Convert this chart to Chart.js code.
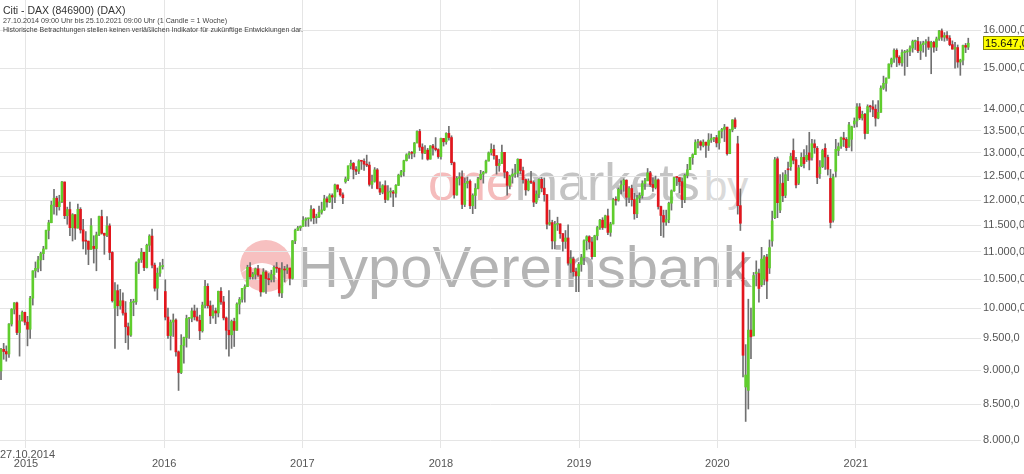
<!DOCTYPE html>
<html>
<head>
<meta charset="utf-8">
<script src="https://cdn.jsdelivr.net/npm/chart.js@4.4.0/dist/chart.umd.min.js"></script>
<style>
    html, body { margin: 0; padding: 0; background: #fff; }
    #wrap { position: relative; width: 1024px; height: 474px; overflow: hidden; font-family: "Liberation Sans", Arial, sans-serif; }
    #chart { position: absolute; left: 0; top: 0; z-index: 1; }
    .wm { position: absolute; z-index: 0; line-height: 1; white-space: nowrap; }
    .txt { position: absolute; z-index: 2; line-height: 1; white-space: nowrap; color: #333; }
</style>
</head>
<body>
<div id="wrap">
    <!-- Wasserzeichen -->
    <div class="wm" style="left:428px; top:156px; font-size:52px; color:#c4c4c4;"><span style="color:#f5bcbc">one</span>markets</div>
    <div class="wm" style="left:704px; top:166px; font-size:42px; color:#dadada;">by</div>
    <div class="wm" style="left:240px; top:240px; width:52px; height:52px; border-radius:50%; background:#f7c0c0; overflow:hidden;">
        <div style="position:absolute; left:-6px; top:22px; width:50px; height:50px; border-radius:50%; border-top:7px solid #fff; transform:rotate(35deg);"></div>
    </div>
    <div class="wm" style="left:297px; top:238px; font-size:58px; color:#b4b4b4;">HypoVereinsbank</div>

    <div class="txt" style="left:3px; top:5px; font-size:10.5px;">Citi - DAX (846900) (DAX)</div>
    <div class="txt" style="left:3px; top:17px; font-size:7.2px; color:#444;">27.10.2014 09:00 Uhr bis 25.10.2021 09:00 Uhr (1 Candle = 1 Woche)</div>
    <div class="txt" style="left:3px; top:25.5px; font-size:7px; color:#444;">Historische Betrachtungen stellen keinen verläßlichen Indikator für zukünftige Entwicklungen dar.</div>

    <canvas id="chart" width="1024" height="474"></canvas>
</div>
<script>
// Wochenkerzen 27.10.2014 - 25.10.2021 (1 Candle = 1 Woche)
const opens = [
    8990, 9326, 9291, 9253, 9733, 9980, 10087, 9594, 9787, 9927,
    // 2015
    9764, 9648, 10168, 10649, 10694, 10846, 10963, 11050, 11402, 11551,
    11901, 12040, 11868, 11967, 12375, 11689, 11811, 11454, 11710, 11447,
    11815, 11413, 11197, 11196, 11041, 11100, 11058, 11316, 11673, 11347,
    11308, 11490, 10985, 10000, 10298, 10038, 10123, 9916, 9688, 9553,
    10096, 10104, 10795, 10850, 10988, 10708, 11119, 11293, 10752, 10340, 10608, 10727,
    // 2016
    10283, 9849, 9545, 9765, 9798, 9286, 8967, 9388, 9513, 9824, 9831, 9950,
    9851, 9795, 9622, 10051, 10373, 10039, 9870, 9952, 9916, 10287, 10103, 9834,
    9631, 9557, 9776, 9630, 10067, 10147, 10337, 10367, 10713, 10544, 10588, 10684,
    10573, 10276, 10627, 10511, 10490, 10580, 10711, 10696, 10259, 10667, 10664, 10700,
    10513, 11203, 11404, 11450,
    // 2017
    11481, 11599, 11629, 11630, 11814, 11651, 11666, 11757, 11804, 12027, 11963, 12095,
    12064, 12313, 12225, 12109, 12380, 12438, 12717, 12770, 12638, 12602, 12823, 12816,
    12753, 12733, 12325, 12389, 12631, 12240, 12163, 12298, 12014, 12165, 12168, 12142,
    12304, 12519, 12592, 12829, 12956, 12992, 12991, 13218, 13479, 13127, 12994, 13060, 12861, 13153, 13104, 13072,
    // 2018
    12918, 13320, 13245, 13434, 13340, 12785, 12107, 12452, 12483, 11914, 12346, 12390,
    11887, 12097, 12241, 12442, 12540, 12580, 12820, 13001, 13078, 12938, 12724, 12767,
    13011, 12580, 12306, 12496, 12541, 12561, 12860, 12616, 12424, 12211, 12394, 12364,
    11960, 12124, 12431, 12247, 12112, 11523, 11554, 11201, 11519, 11529, 11341, 11192,
    11257, 10788, 10866, 10634, 10559,
    // 2019
    10767, 10888, 11205, 11282, 11181, 10907, 11299, 11457, 11602, 11458, 11686, 11364,
    11526, 12010, 11999, 12222, 12315, 12413, 12059, 12239, 12011, 11727, 12046, 12096,
    12340, 12399, 12568, 12323, 12260, 12419, 11872, 11694, 11563, 11612, 11939, 12192,
    12469, 12468, 12381, 12013, 12512, 12634, 12895, 12961, 13229, 13242, 13164, 13236,
    13167, 13283, 13319, 13337,
    // 2020
    13219, 13483, 13526, 13577, 12982, 13514, 13745, 13200, 11890, 10980, 8750, 8700,
    9633, 9540, 10600, 10600, 10400, 10500, 10900, 10700, 11200, 11650, 12870, 11800,
    12350, 12100, 12650, 12700, 13050, 12850, 12350, 12720, 12900, 12850, 13000, 12900,
    13200, 13100, 12550, 12700, 13100, 12900, 12450, 11600, 12600, 13050, 13150, 13330,
    13300, 13150, 13300, 13650,
    // 2021
    13719, 14050, 13788, 13874, 13433, 14057, 14050, 13994, 13786, 13921, 14502, 14621,
    14749, 15107, 15234, 15460, 15280, 15136, 15400, 15417, 15437, 15520, 15693, 15693,
    15448, 15608, 15650, 15688, 15540, 15669, 15544, 15761, 15977, 15808, 15852, 15781,
    15610, 15491, 15532, 15156, 15207, 15587, 15543
];
const highs = [
    9340, 9420, 9380, 9740, 9990, 10093, 10100, 9880, 9950, 9930,
    9860, 10200, 10650, 10810, 10912, 10990, 11100, 11410, 11600, 11980,
    12220, 12080, 12100, 12390, 12300, 11860, 11960, 11730, 11600, 11920,
    11850, 11620, 11380, 11200, 11630, 11300, 11370, 11680, 11800, 11350,
    11670, 11530, 11000, 10440, 10400, 10320, 10260, 10110, 9750, 10150,
    10150, 10810, 10870, 11060, 10950, 11140, 11320, 11430, 10790, 10700, 10800, 10860,
    10490, 10000, 9800, 9900, 9820, 9300, 9560, 9520, 9880, 9840, 10000, 10050,
    10000, 9880, 10100, 10480, 10420, 10120, 10050, 10000, 10290, 10350, 10200, 9850,
    10300, 9800, 9830, 10090, 10180, 10340, 10400, 10750, 10800, 10620, 10700, 10750,
    10570, 10690, 10650, 10600, 10660, 10740, 10800, 10700, 10800, 10730, 10760, 10700,
    11210, 11430, 11480, 11490,
    11670, 11650, 11640, 11890, 11830, 11720, 11880, 11960, 12100, 12070, 12130, 12130,
    12330, 12300, 12240, 12150, 12480, 12720, 12840, 12790, 12700, 12850, 12830, 12870,
    12950, 12800, 12520, 12680, 12660, 12380, 12320, 12400, 12300, 12250, 12200, 12320,
    12540, 12620, 12840, 12980, 13030, 13030, 13230, 13490, 13525, 13200, 13160, 13100, 13160, 13190, 13340, 13090,
    13330, 13300, 13450, 13597, 13380, 12800, 12490, 12570, 12610, 12460, 12480, 12420,
    12130, 12340, 12470, 12620, 12600, 12840, 13020, 13200, 13170, 12930, 12860, 13170,
    13000, 12600, 12520, 12650, 12750, 12870, 12860, 12690, 12440, 12440, 12600, 12400,
    12190, 12440, 12470, 12460, 12120, 11800, 11600, 11580, 11660, 11500, 11330, 11400,
    11510, 11020, 10900, 10700, 10800,
    10950, 11220, 11300, 11300, 11270, 11310, 11480, 11620, 11650, 11700, 11820, 11560,
    12040, 12070, 12250, 12400, 12440, 12420, 12280, 12310, 12140, 12100, 12150, 12400,
    12450, 12660, 12600, 12460, 12500, 12440, 11880, 11800, 11800, 11960, 12210, 12480,
    12480, 12440, 12460, 12540, 12750, 12900, 12980, 13290, 13300, 13270, 13290, 13240,
    13430, 13420, 13340, 13390,
    13490, 13550, 13640, 13400, 13530, 13750, 13795, 13370, 12230, 11000, 9400, 10150,
    10000, 10620, 10830, 10680, 11080, 10930, 10950, 11220, 11780, 12900, 12910, 12530,
    12570, 12620, 12800, 12990, 13310, 12900, 12730, 13000, 13070, 13160, 13460, 13300,
    13290, 13140, 12830, 13080, 13200, 12950, 12640, 12540, 13300, 13220, 13350, 13460,
    13340, 13690, 13600, 13790,
    14130, 14130, 13950, 13900, 14100, 14090, 14200, 14100, 14200, 14560, 14800, 14760,
    15110, 15260, 15500, 15500, 15320, 15470, 15460, 15480, 15580, 15730, 15730, 15800,
    15690, 15700, 15740, 15810, 15700, 15700, 15810, 15990, 16030, 15930, 15960, 15850,
    15710, 15670, 15600, 15230, 15600, 15640, 15780
];
const lows = [
    8860, 9170, 9140, 9200, 9700, 9900, 9560, 9219, 9780, 9720,
    9380, 9500, 10050, 10530, 10630, 10650, 10850, 11050, 11240, 11550,
    11720, 11700, 11800, 11950, 11630, 11520, 11300, 11200, 11230, 11450,
    11350, 11050, 10950, 10760, 11050, 10790, 10650, 11300, 11330, 10950,
    11280, 10850, 10100, 9338, 9870, 9980, 9880, 9430, 9325, 9530,
    9870, 10060, 10600, 10800, 10650, 10700, 11000, 10700, 10290, 10140, 10550, 10680,
    9800, 9500, 9314, 9530, 9220, 8699, 8950, 9110, 9360, 9500, 9770, 9800,
    9780, 9480, 9600, 10000, 10000, 9740, 9830, 9740, 9850, 10060, 9800, 9330,
    9220, 9340, 9370, 9650, 9900, 10100, 10100, 10380, 10500, 10500, 10500, 10550,
    10200, 10300, 10250, 10400, 10450, 10450, 10620, 10200, 10175, 10450, 10600, 10400,
    10500, 11150, 11400, 11400,
    11480, 11480, 11480, 11580, 11530, 11540, 11650, 11720, 11790, 11860, 11950, 11830,
    11950, 12170, 12080, 11930, 12350, 12400, 12650, 12440, 12530, 12550, 12640, 12620,
    12700, 12290, 12240, 12370, 12230, 12110, 12130, 11950, 12000, 12060, 11870, 12060,
    12300, 12480, 12500, 12820, 12880, 12870, 12910, 13220, 13050, 12860, 12980, 12840, 12870, 12950, 13040, 12880,
    12860, 13150, 13190, 13280, 12740, 12040, 12100, 12310, 11830, 11870, 12250, 11830,
    11730, 11830, 12230, 12420, 12350, 12560, 12820, 12950, 12860, 12540, 12600, 12810,
    12460, 12100, 12230, 12350, 12470, 12480, 12550, 12350, 12100, 12190, 12340, 11870,
    11930, 12050, 12170, 11980, 11430, 11500, 11050, 11050, 11400, 11250, 11010, 11060,
    10750, 10620, 10550, 10280, 10280,
    10640, 10760, 11030, 11050, 10860, 10950, 11220, 11420, 11420, 11450, 11320, 11290,
    11560, 11900, 11980, 12130, 12180, 11880, 11950, 11880, 11620, 11650, 11950, 12040,
    12220, 12430, 12280, 12180, 12230, 11820, 11300, 11270, 11500, 11550, 11800, 12180,
    12300, 12150, 11850, 11950, 12460, 12640, 12750, 12990, 13110, 13060, 13130, 12900,
    13050, 13230, 13250, 13130,
    13080, 13330, 13250, 12950, 12980, 13470, 13540, 11720, 11400, 8900, 8255, 8430,
    9180, 9540, 10380, 10100, 10370, 10400, 10160, 10600, 11100, 11630, 11650, 11750,
    11970, 12050, 12400, 12620, 12760, 12250, 12320, 12700, 12670, 12810, 12630, 12840,
    12990, 12340, 12450, 12680, 12640, 12520, 11450, 11560, 12480, 12940, 13100, 13140,
    13050, 13120, 13040, 13570,
    13580, 13750, 13740, 13310, 13460, 13930, 13820, 13600, 13770, 14030, 14470, 14430,
    14800, 15030, 15150, 15040, 15080, 15050, 14820, 15040, 15320, 15410, 15480, 15400,
    15220, 15410, 15300, 15480, 14860, 15410, 15450, 15720, 15720, 15700, 15720, 15580,
    15490, 15000, 15020, 14820, 15080, 15400, 15480
];
const closes = [
    9326, 9291, 9253, 9733, 9980, 10087, 9594, 9787, 9927, 9764,
    9648, 10168, 10649, 10694, 10846, 10963, 11050, 11402, 11551, 11901,
    12040, 11868, 11967, 12375, 11689, 11811, 11454, 11710, 11447, 11815,
    11413, 11197, 11196, 11041, 11492, 11058, 11316, 11673, 11347, 11308,
    11490, 10985, 10124, 10298, 10038, 10123, 9916, 9688, 9553, 10096,
    10104, 10795, 10850, 10988, 10708, 11119, 11293, 10752, 10340, 10608, 10727, 10743,
    9849, 9545, 9765, 9798, 9286, 8967, 9388, 9513, 9824, 9831, 9950, 9851,
    9795, 9622, 10051, 10373, 10039, 9870, 9952, 9916, 10287, 10103, 9834, 9631,
    9557, 9776, 9630, 10067, 10147, 10337, 10367, 10713, 10544, 10588, 10684, 10573,
    10276, 10627, 10511, 10490, 10580, 10711, 10696, 10259, 10667, 10664, 10700, 10513,
    11203, 11404, 11450, 11481,
    11599, 11629, 11630, 11814, 11651, 11666, 11757, 11804, 12027, 11963, 12095, 12064,
    12313, 12225, 12109, 12049, 12438, 12717, 12770, 12638, 12602, 12823, 12816, 12753,
    12733, 12325, 12389, 12631, 12240, 12163, 12298, 12014, 12165, 12168, 12142, 12304,
    12519, 12592, 12829, 12956, 12992, 12991, 13218, 13479, 13127, 12994, 13060, 12861, 13153, 13104, 13072, 12918,
    13320, 13245, 13434, 13340, 12785, 12107, 12452, 12483, 11914, 12346, 12390, 11887,
    12097, 12241, 12442, 12540, 12580, 12820, 13001, 13078, 12938, 12724, 12767, 13011,
    12580, 12306, 12496, 12541, 12561, 12860, 12616, 12424, 12211, 12394, 12364, 11960,
    12124, 12431, 12247, 12112, 11523, 11554, 11201, 11519, 11529, 11341, 11192, 11257,
    10788, 10866, 10634, 10559, 10767,
    10888, 11205, 11282, 11181, 10907, 11299, 11457, 11602, 11458, 11686, 11364, 11526,
    12010, 11999, 12222, 12315, 12413, 12059, 12239, 12011, 11727, 12046, 12096, 12340,
    12399, 12568, 12323, 12260, 12419, 11872, 11694, 11563, 11612, 11939, 12192, 12469,
    12468, 12381, 12013, 12512, 12634, 12895, 12961, 13229, 13242, 13164, 13236, 13167,
    13283, 13319, 13337, 13219,
    13483, 13526, 13577, 12982, 13514, 13745, 13579, 11890, 11541, 9232, 8929, 9633,
    9525, 10565, 10626, 10336, 10862, 10904, 10465, 11074, 11587, 12848, 11949, 12331,
    12089, 12528, 12633, 12920, 12838, 12313, 12675, 12901, 12765, 12945, 12842, 13202,
    13116, 12469, 12689, 13051, 12909, 12646, 11556, 12480, 13077, 13137, 13336, 13298,
    13114, 13631, 13587, 13719,
    14050, 13788, 13874, 13433, 14057, 14050, 13994, 13786, 13921, 14502, 14621, 14749,
    15107, 15234, 15460, 15280, 15136, 15400, 15417, 15437, 15520, 15693, 15693, 15448,
    15608, 15650, 15688, 15540, 15669, 15544, 15761, 15977, 15808, 15852, 15781, 15610,
    15491, 15532, 15156, 15207, 15587, 15543, 15647
];

// Jahreswechsel als Wochenindex (ab 27.10.2014)
const yearLabels = ['2015', '2016', '2017', '2018', '2019', '2020', '2021'];
const yearPos = [9.43, 61.57, 113.71, 166.0, 218.14, 270.29, 322.57];
const priceTicks = [8000, 8500, 9000, 9500, 10000, 10500, 11000, 11500, 12000, 12500, 13000, 13500, 14000, 15000, 16000];
const startLabel = '27.10.2014';

document.addEventListener('DOMContentLoaded', () => {
    const green = '#5fcd2d';
    const red = '#e3161d';
    const wickColor = '#707070';
    const gridColor = '#e5e5e5';
    const textColor = '#555';

    // Zahlen im deutschen Format: 16.000,0
    function fmt(v) {
        const s = Math.round(v).toString().replace(/\B(?=(\d{3})+(?!\d))/g, '.');
        return s + ',0';
    }

    const bodies = closes.map((c, i) => ({ x: i, y: [opens[i], c] }));
    const wicks = closes.map((c, i) => ({
        x: i,
        y: [Math.min(lows[i], opens[i], c), Math.max(highs[i], opens[i], c)]
    }));
    const bodyColors = closes.map((c, i) => (c >= opens[i] ? green : red));

    // Kursmarke rechts und Startdatum unten links
    const extras = {
        id: 'extras',
        afterDraw(chart) {
            const ctx = chart.ctx;
            const last = closes[closes.length - 1];
            const y = chart.scales.y.getPixelForValue(last);
            ctx.save();
            ctx.fillStyle = '#ffff00';
            ctx.strokeStyle = '#8a8a00';
            ctx.lineWidth = 1;
            ctx.fillRect(983, Math.round(y) - 7, 45, 14);
            ctx.strokeRect(983.5, Math.round(y) - 6.5, 45, 13);
            ctx.fillStyle = '#111';
            ctx.font = '11px "Liberation Sans", Arial, sans-serif';
            ctx.textBaseline = 'middle';
            ctx.fillText(fmt(last), 985, Math.round(y) + 0.5);

            ctx.fillStyle = textColor;
            ctx.fillText(startLabel, 0, 455);
            ctx.restore();
        }
    };

    new Chart(document.getElementById('chart').getContext('2d'), {
        type: 'bar',
        data: {
            datasets: [
                { data: bodies, backgroundColor: bodyColors, barThickness: 2, minBarLength: 1, grouped: false, order: 0 },
                { data: wicks, backgroundColor: wickColor, barThickness: 1, grouped: false, order: 1 }
            ]
        },
        options: {
            responsive: false,
            animation: false,
            layout: { padding: 0 },
            plugins: { legend: { display: false }, tooltip: { enabled: false } },
            scales: {
                x: {
                    type: 'linear',
                    offset: false,
                    min: -0.38,
                    max: 369.8,
                    afterBuildTicks: axis => { axis.ticks = yearPos.map(v => ({ value: v })); },
                    afterFit: s => { s.height = 26; s.paddingLeft = 0; s.paddingRight = 0; },
                    ticks: {
                        callback: (v, i) => yearLabels[i],
                        autoSkip: false,
                        maxRotation: 0,
                        color: textColor,
                        font: { family: '"Liberation Sans", Arial, sans-serif', size: 11 },
                        padding: 9
                    },
                    grid: { color: gridColor, drawTicks: false, offset: false },
                    border: { display: false }
                },
                y: {
                    type: 'logarithmic',
                    position: 'right',
                    min: 7892.6,
                    max: 16832.7,
                    afterBuildTicks: axis => { axis.ticks = priceTicks.map(v => ({ value: v })); },
                    afterFit: s => { s.width = 43; s.paddingTop = 0; s.paddingBottom = 0; },
                    ticks: {
                        callback: v => fmt(v),
                        autoSkip: false,
                        color: textColor,
                        font: { family: '"Liberation Sans", Arial, sans-serif', size: 11 },
                        padding: 2
                    },
                    grid: { color: gridColor, drawTicks: false },
                    border: { display: false }
                }
            }
        },
        plugins: [extras]
    });
});
</script>
</body>
</html>
